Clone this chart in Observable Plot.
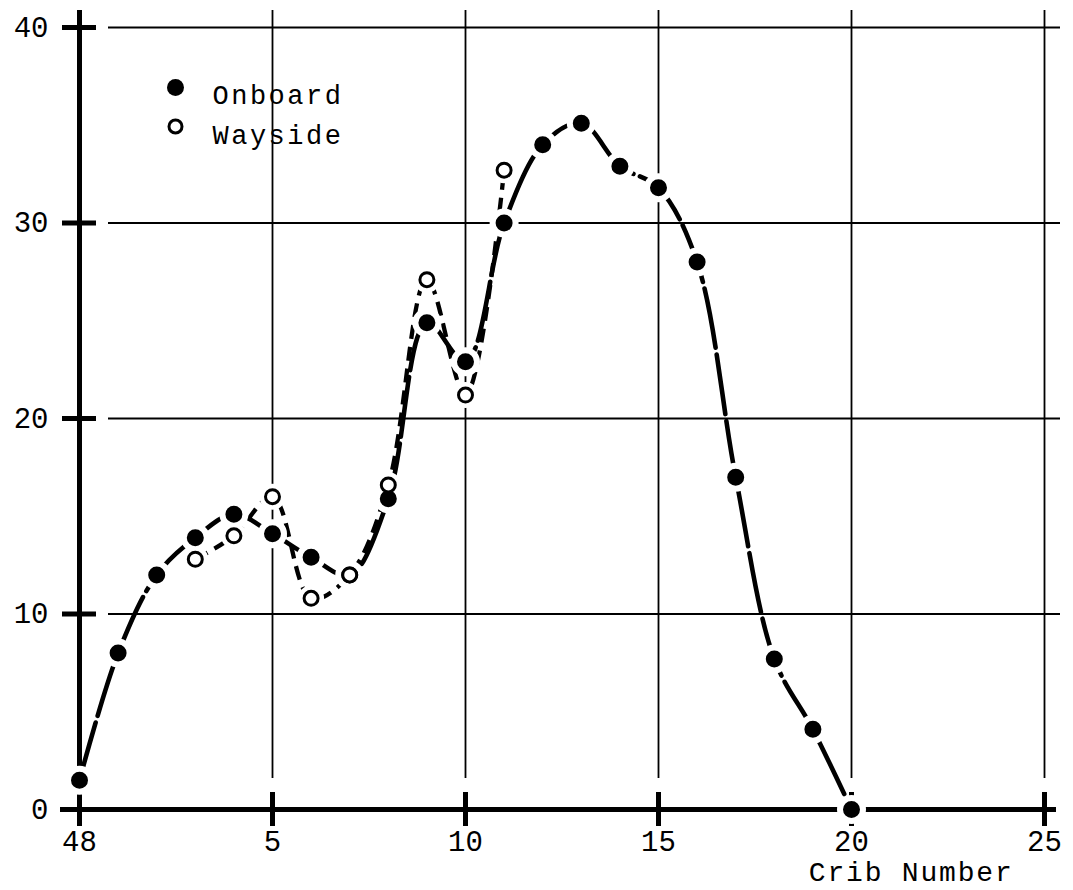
<!DOCTYPE html>
<html>
<head>
<meta charset="utf-8">
<script src="https://cdn.jsdelivr.net/npm/d3@7"></script>
<script src="https://cdn.jsdelivr.net/npm/@observablehq/plot@0.6"></script>
<style>
  html, body { margin: 0; padding: 0; background: #fff; }
  #chart { width: 1073px; height: 890px; }
</style>
</head>
<body>
<div id="chart"></div>
<script>
// Crib index along the track: 0 is crib 48, then cribs 1..20
const cribs = [0, 1, 2, 3, 4, 5, 6, 7, 8, 9, 10, 11, 12, 13, 14, 15, 16, 17, 18, 19, 20];
const onboard = [1.5, 8.0, 12.0, 13.9, 15.1, 14.1, 12.9, 12.0, 15.9, 24.9, 22.9, 30.0, 34.0, 35.1, 32.9, 31.8, 28.0, 17.0, 7.7, 4.1, 0];

const waysideCribs = [3, 4, 5, 6, 7, 8, 9, 10, 11];
const wayside = [12.8, 14.0, 16.0, 10.8, 12.0, 16.6, 27.1, 21.2, 32.7];

const seriesNames = ["Onboard", "Wayside"];

const xTicks = [0, 5, 10, 15, 20, 25];
const xTickLabels = ["48", "5", "10", "15", "20", "25"];
const yTicks = [0, 10, 20, 30, 40];
const xTitle = "Crib Number";

const onboardData = cribs.map((c, i) => ({crib: c, value: onboard[i]}));
const waysideData = waysideCribs.map((c, i) => ({crib: c, value: wayside[i]}));

const font = "'Liberation Mono', 'DejaVu Sans Mono', monospace";
const ink = "#000";
const paper = "#fff";

const plot = Plot.plot({
  width: 1073,
  height: 890,
  marginLeft: 79,
  marginRight: 29,
  marginTop: 27,
  marginBottom: 81,
  x: {domain: [0, 25]},
  y: {domain: [0, 40]},
  style: {fontFamily: font, fontSize: "29px", color: ink, background: paper},
  marks: [
    // light grid
    Plot.ruleY(yTicks.slice(1), {stroke: ink, strokeWidth: 1.8, insetLeft: 29, insetRight: -16}),
    Plot.ruleX(xTicks.slice(1), {stroke: ink, strokeWidth: 1.8, insetTop: -17, insetBottom: 31}),

    // heavy axes with crossing ticks
    Plot.ruleX([0], {stroke: ink, strokeWidth: 5, insetTop: -17, insetBottom: -17}),
    Plot.ruleY([0], {stroke: ink, strokeWidth: 5, insetLeft: -19, insetRight: -12}),
    Plot.axisY(yTicks.slice(1), {tickSize: 34, dx: 17, fill: "none", stroke: ink, strokeWidth: 5, label: null}),
    Plot.axisX(xTicks.slice(1), {tickSize: 34, dy: -17, fill: "none", stroke: ink, strokeWidth: 5, label: null}),

    // tick labels
    Plot.axisY(yTicks, {tickSize: 0, tickPadding: 31, label: null, fontSize: 29}),
    Plot.axisX(xTicks, {
      tickSize: 0, tickPadding: 21, label: null, fontSize: 29,
      tickFormat: d => xTickLabels[xTicks.indexOf(d)]
    }),
    Plot.text([xTitle], {
      frameAnchor: "bottom-right", textAnchor: "end", lineAnchor: "bottom",
      dx: -31, dy: 71, fontSize: 28, fill: ink
    }),

    // curves
    Plot.line(onboardData, {
      x: "crib", y: "value", curve: "catmull-rom",
      stroke: ink, strokeWidth: 4.6, strokeDasharray: "60,7", strokeLinecap: "round"
    }),
    Plot.line(waysideData, {
      x: "crib", y: "value", curve: "catmull-rom",
      stroke: ink, strokeWidth: 4.3, strokeDasharray: "14,8", strokeLinecap: "butt"
    }),

    // wayside markers: a paper-coloured ring clears the line around each circle
    Plot.dot(waysideData, {x: "crib", y: "value", r: 10, fill: paper, stroke: paper, strokeWidth: 6}),
    // onboard markers: solid disc (radius 8.5) with a paper-coloured ring around it
    Plot.dot(onboardData, {x: "crib", y: "value", r: 11.5, fill: ink, stroke: paper, strokeWidth: 6}),
    Plot.dot(waysideData, {x: "crib", y: "value", r: 7, fill: paper, stroke: ink, strokeWidth: 3}),

    // key
    Plot.dot([seriesNames[0]], {frameAnchor: "top-left", dx: 96, dy: 60, r: 8.5, fill: ink}),
    Plot.text([seriesNames[0]], {
      frameAnchor: "top-left", dx: 133, dy: 57, text: d => d,
      textAnchor: "start", fontSize: 27, fill: ink
    }),
    Plot.dot([seriesNames[1]], {frameAnchor: "top-left", dx: 96, dy: 99, r: 6.5, fill: paper, stroke: ink, strokeWidth: 3}),
    Plot.text([seriesNames[1]], {
      frameAnchor: "top-left", dx: 133, dy: 97, text: d => d,
      textAnchor: "start", fontSize: 27, fill: ink
    })
  ]
});

// typewriter-like spacing for the key and the axis title
d3.select(plot).selectAll("text").each(function () {
  const t = this.textContent;
  if (seriesNames.includes(t)) d3.select(this).style("letter-spacing", "2.5px");
  if (t === xTitle) d3.select(this).style("letter-spacing", "1.8px");
});

document.getElementById("chart").appendChild(plot);
</script>
</body>
</html>
